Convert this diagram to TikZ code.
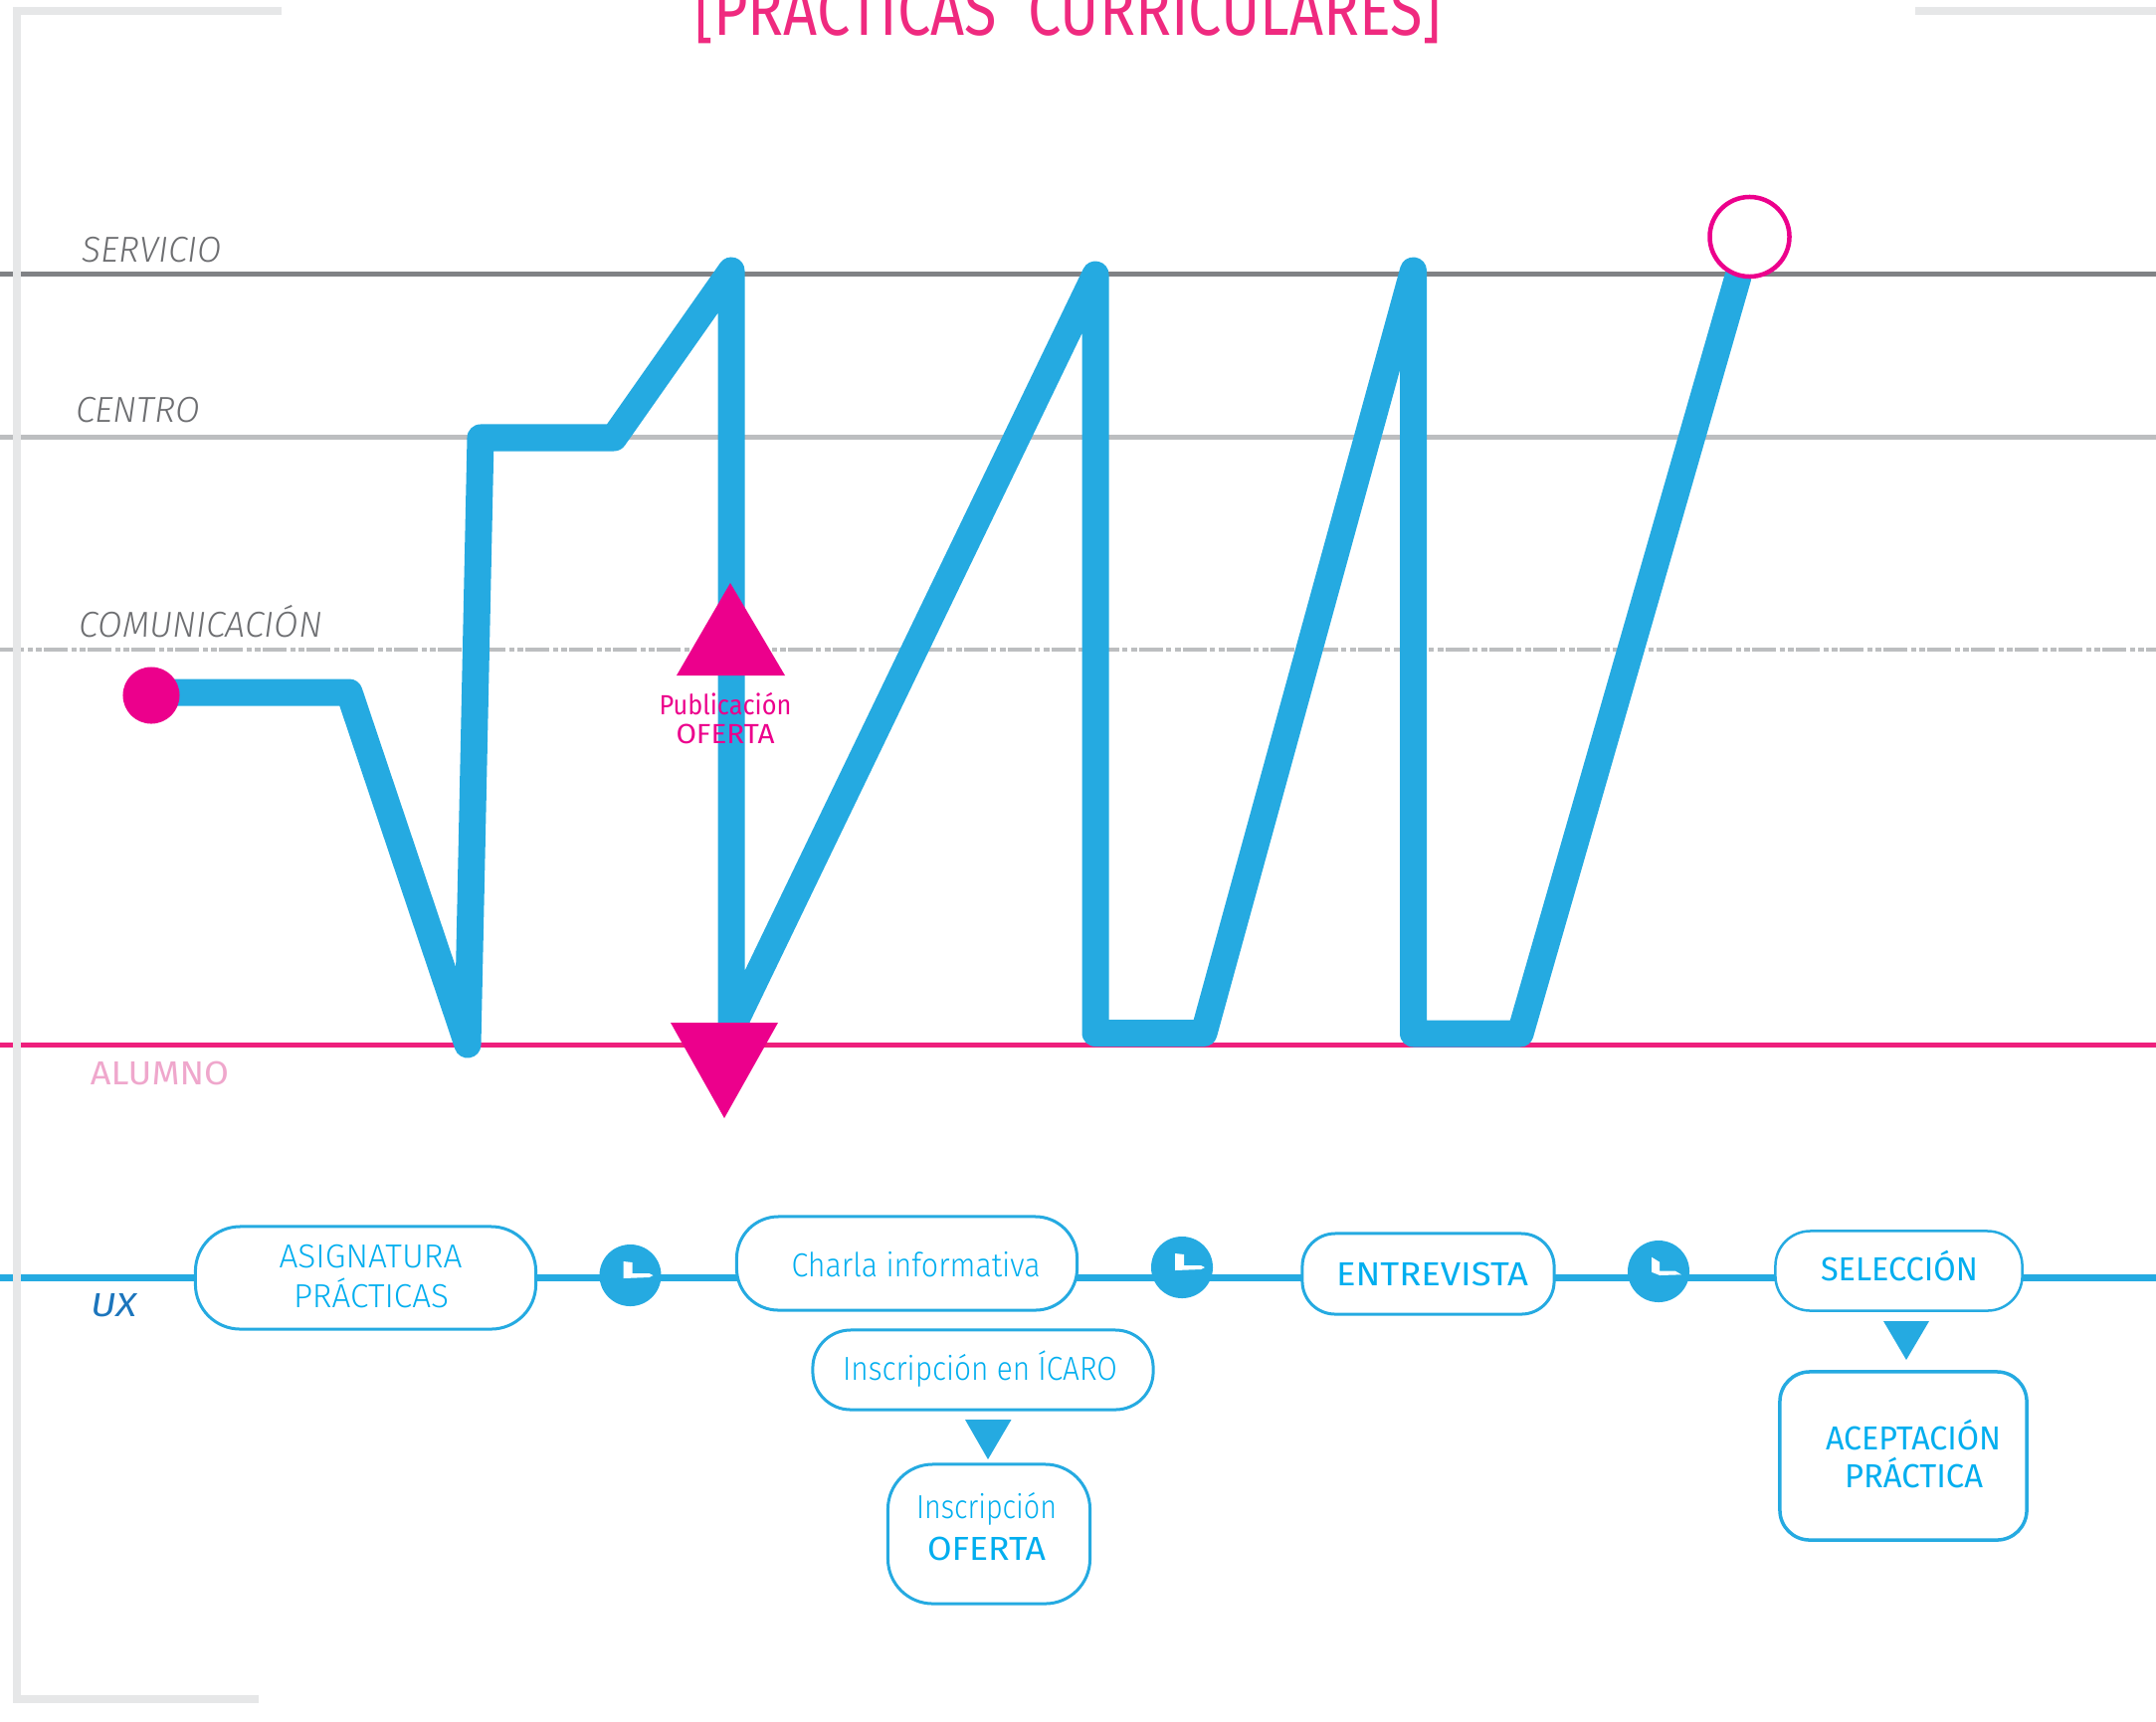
\documentclass[tikz,border=0pt]{standalone}
\usepackage{fontspec}
\setmainfont{Fira Sans}
\newfontfamily\fl{Fira Sans Light}
\newfontfamily\fli{Fira Sans Light Italic}
\usetikzlibrary{backgrounds}
\definecolor{bl}{HTML}{25AAE1}
\definecolor{cy}{HTML}{00AEEF}
\definecolor{mg}{HTML}{EC008C}
\definecolor{almg}{HTML}{EE1F7C}
\definecolor{titmg}{HTML}{EF2A7F}
\definecolor{frm}{HTML}{E6E7E8}
\definecolor{gd}{HTML}{808285}
\definecolor{gl}{HTML}{BCBEC0}
\definecolor{gt}{HTML}{6D6E71}
\definecolor{alu}{HTML}{EFA7CC}
\definecolor{uxb}{HTML}{1C75BC}
\tikzset{
  x=0.01cm,y=-0.01cm,
  framel/.style={frm,line width=0.08cm},
  hline/.style={line width=0.05cm},
  route/.style={bl,line width=0.27cm,line join=round,line cap=round},
  uxline/.style={bl,line width=0.07cm},
  box/.style={draw=bl,fill=white,line width=0.03cm,rectangle,inner sep=0pt,outer sep=0pt},
  lbl/.style={anchor=base,inner sep=0pt,outer sep=0pt},
  clock/.style={circle,fill=bl,minimum size=0.62cm,inner sep=0pt},
  tri/.style={fill=#1}
}
\newcommand{\lb}[6]{\node[lbl,text=#5] (#1) at (#2,#3) {\resizebox{#4\dimexpr0.01cm\relax}{\height}{#6}};}
\newcommand{\hand}[1]{\begin{scope}[shift={(#1)}]
  \fill[white] (-7,-14) -- (2,-13) -- (2,-2) -- (19,-2) -- (23,0) -- (19,2) -- (-7,3) -- cycle;
\end{scope}}
\begin{document}
\begin{tikzpicture}
\useasboundingbox (0,0) rectangle (2167,1730);
\clip (0,0) rectangle (2167,1730);
% swimlane lines
\coordinate (sL) at (0,275); \coordinate (sR) at (2167,275);
\coordinate (cL) at (0,439.5); \coordinate (cR) at (2167,439.5);
\coordinate (mL) at (0,653); \coordinate (mR) at (2167,653);
\coordinate (aL) at (0,1050); \coordinate (aR) at (2167,1050);
\coordinate (uxL) at (0,1284); \coordinate (uxR) at (2167,1284);
\begin{scope}[on background layer]
\draw[hline,gd] (sL) -- (sR);
\draw[hline,gl] (cL) -- (cR);
\draw[gl,line width=0.045cm,dash pattern=on 0.24cm off 0.035cm on 0.05cm off 0.035cm on 0.06cm off 0.02cm] (mL) -- (mR);
\draw[hline,almg] (aL) -- (aR);
\end{scope}
% frame
\coordinate (f1) at (283,11); \coordinate (f2) at (17,11); \coordinate (f3) at (17,1708); \coordinate (f4) at (260,1708);
\coordinate (f5) at (1925,11); \coordinate (f6) at (2167,11);
% UX boxes
\node[box,rounded corners=0.45cm,minimum width=3.42cm,minimum height=1.03cm] (asig) at (367.5,1284.5) {};
\node[box,rounded corners=0.42cm,minimum width=3.42cm,minimum height=0.94cm] (charla) at (911.5,1270) {};
\node[box,rounded corners=0.38cm,minimum width=3.42cm,minimum height=0.80cm] (icaro) at (988,1377) {};
\node[box,rounded corners=0.45cm,minimum width=2.03cm,minimum height=1.40cm] (oferta) at (994,1542) {};
\node[box,rounded corners=0.33cm,minimum width=2.53cm,minimum height=0.81cm] (entre) at (1435.5,1280.5) {};
\node[box,line width=0.025cm,rounded corners=0.35cm,minimum width=2.48cm,minimum height=0.80cm] (sel) at (1908.5,1277.5) {};
\node[box,line width=0.035cm,rounded corners=0.30cm,minimum width=2.48cm,minimum height=1.69cm] (acep) at (1913,1463.5) {};
\node[clock] (c1) at (633.5,1282) {};
\node[clock] (c2) at (1188,1274) {};
\node[clock] (c3) at (1667,1278) {};
\hand{c1}\hand{c2}
\begin{scope}[shift={(c3)}]
  \fill[white] (-7,-14.3) -- (1.2,-9.3) -- (1.2,-0.3) -- (17,-0.3) -- (23,3.3) -- (1.2,4) -- (-7,0.7) -- cycle;
\end{scope}
\begin{scope}[on background layer]
\draw[uxline] (uxL) -- (asig |- uxL) -- (c1 |- uxL) -- (charla |- uxL) -- (c2 |- uxL) -- (entre |- uxL) -- (c3 |- uxL) -- (sel |- uxL) -- (uxR);
\end{scope}
\draw[framel] (f1) -- (f2) -- (f3) -- (f4);
\draw[framel] (f5) -- (f6);
% route
\coordinate (p1) at (351,696);
\coordinate (p2) at (470,1050);
\coordinate (p3) at (483,440);
\coordinate (p4) at (617,440);
\coordinate (p5) at (735,272);
\coordinate (p6) at (735,1035);
\coordinate (p7) at (1101,276);
\coordinate (p8) at (1101,1038.5);
\coordinate (p9) at (1210,1038.5);
\coordinate (p10) at (1420.5,272);
\coordinate (p11) at (1420.5,1039);
\coordinate (p12) at (1528,1039);
\coordinate (p0) at (152,696);
\node[circle,fill=mg,minimum size=0.57cm,inner sep=0pt] (start) at (152,699) {};
\node[circle,draw=mg,fill=white,line width=0.045cm,minimum size=0.80cm,inner sep=0pt] (finish) at (1758.5,238) {};
\begin{scope}[on background layer]
\draw[route] (p0) -- (p1) -- (p2) -- (p3) -- (p4) -- (p5) -- (p6) -- (p7) -- (p8) -- (p9) -- (p10) -- (p11) -- (p12) -- (finish);
\end{scope}
% triangles
\fill[tri=mg] (734,586) -- (789,679) -- (680,679) -- cycle;
\fill[tri=mg] (674,1028) -- (782,1028) -- (728,1124) -- cycle;
\fill[tri=bl] (970,1427) -- (1016.5,1427) -- (993,1467) -- cycle;
\fill[tri=bl] (1893,1328) -- (1939,1328) -- (1916,1367) -- cycle;
% labels
\lb{title}{1073.5}{35}{751}{titmg}{\fontsize{20.5}{24}\selectfont [PRÁCTICAS\ \ CURRICULARES]}
\lb{lserv}{153}{263}{140}{gt}{\fontsize{10.3}{12}\fli SERVICIO}
\lb{lcent}{138.5}{424}{125}{gt}{\fontsize{10.3}{12}\fli CENTRO}
\lb{lcom}{202}{640}{244}{gt}{\fontsize{10.3}{12}\fli COMUNICACIÓN}
\lb{lalu}{160.5}{1090.5}{139}{alu}{\fontsize{9.5}{12}\selectfont ALUMNO}
\lb{lux}{114}{1323}{46}{uxb}{\fontsize{9.5}{12}\selectfont\itshape UX}
\lb{pub1}{729}{718.5}{133}{mg}{\fontsize{7.9}{10}\selectfont Publicación}
\lb{pub2}{729}{747.5}{99}{mg}{\fontsize{7.9}{10}\selectfont OFERTA}
\lb{t1}{372.5}{1274.4}{184}{cy}{\fontsize{9.5}{12}\fl ASIGNATURA}
\lb{t2}{373}{1314.4}{156}{cy}{\fontsize{9.5}{12}\fl PRÁCTICAS}
\lb{t3}{920.5}{1283.4}{250}{cy}{\fontsize{9.5}{12}\fl Charla informativa}
\lb{t4}{985}{1387.4}{276}{cy}{\fontsize{9.5}{12}\fl Inscripción en ÍCARO}
\lb{t5}{991.5}{1526.4}{141}{cy}{\fontsize{9.5}{12}\fl Inscripción}
\lb{t6}{991.5}{1568}{119}{cy}{\fontsize{9.5}{12}\selectfont OFERTA}
\lb{t7}{1439.5}{1292}{193}{cy}{\fontsize{9.5}{12}\selectfont ENTREVISTA}
\lb{t8}{1909}{1287.4}{158}{cy}{\fontsize{9.5}{12}\selectfont SELECCIÓN}
\lb{t9}{1923}{1457.4}{176}{cy}{\fontsize{9.5}{12}\selectfont ACEPTACIÓN}
\lb{t10}{1923.5}{1495.4}{139}{cy}{\fontsize{9.5}{12}\selectfont PRÁCTICA}
\end{tikzpicture}
\end{document}
